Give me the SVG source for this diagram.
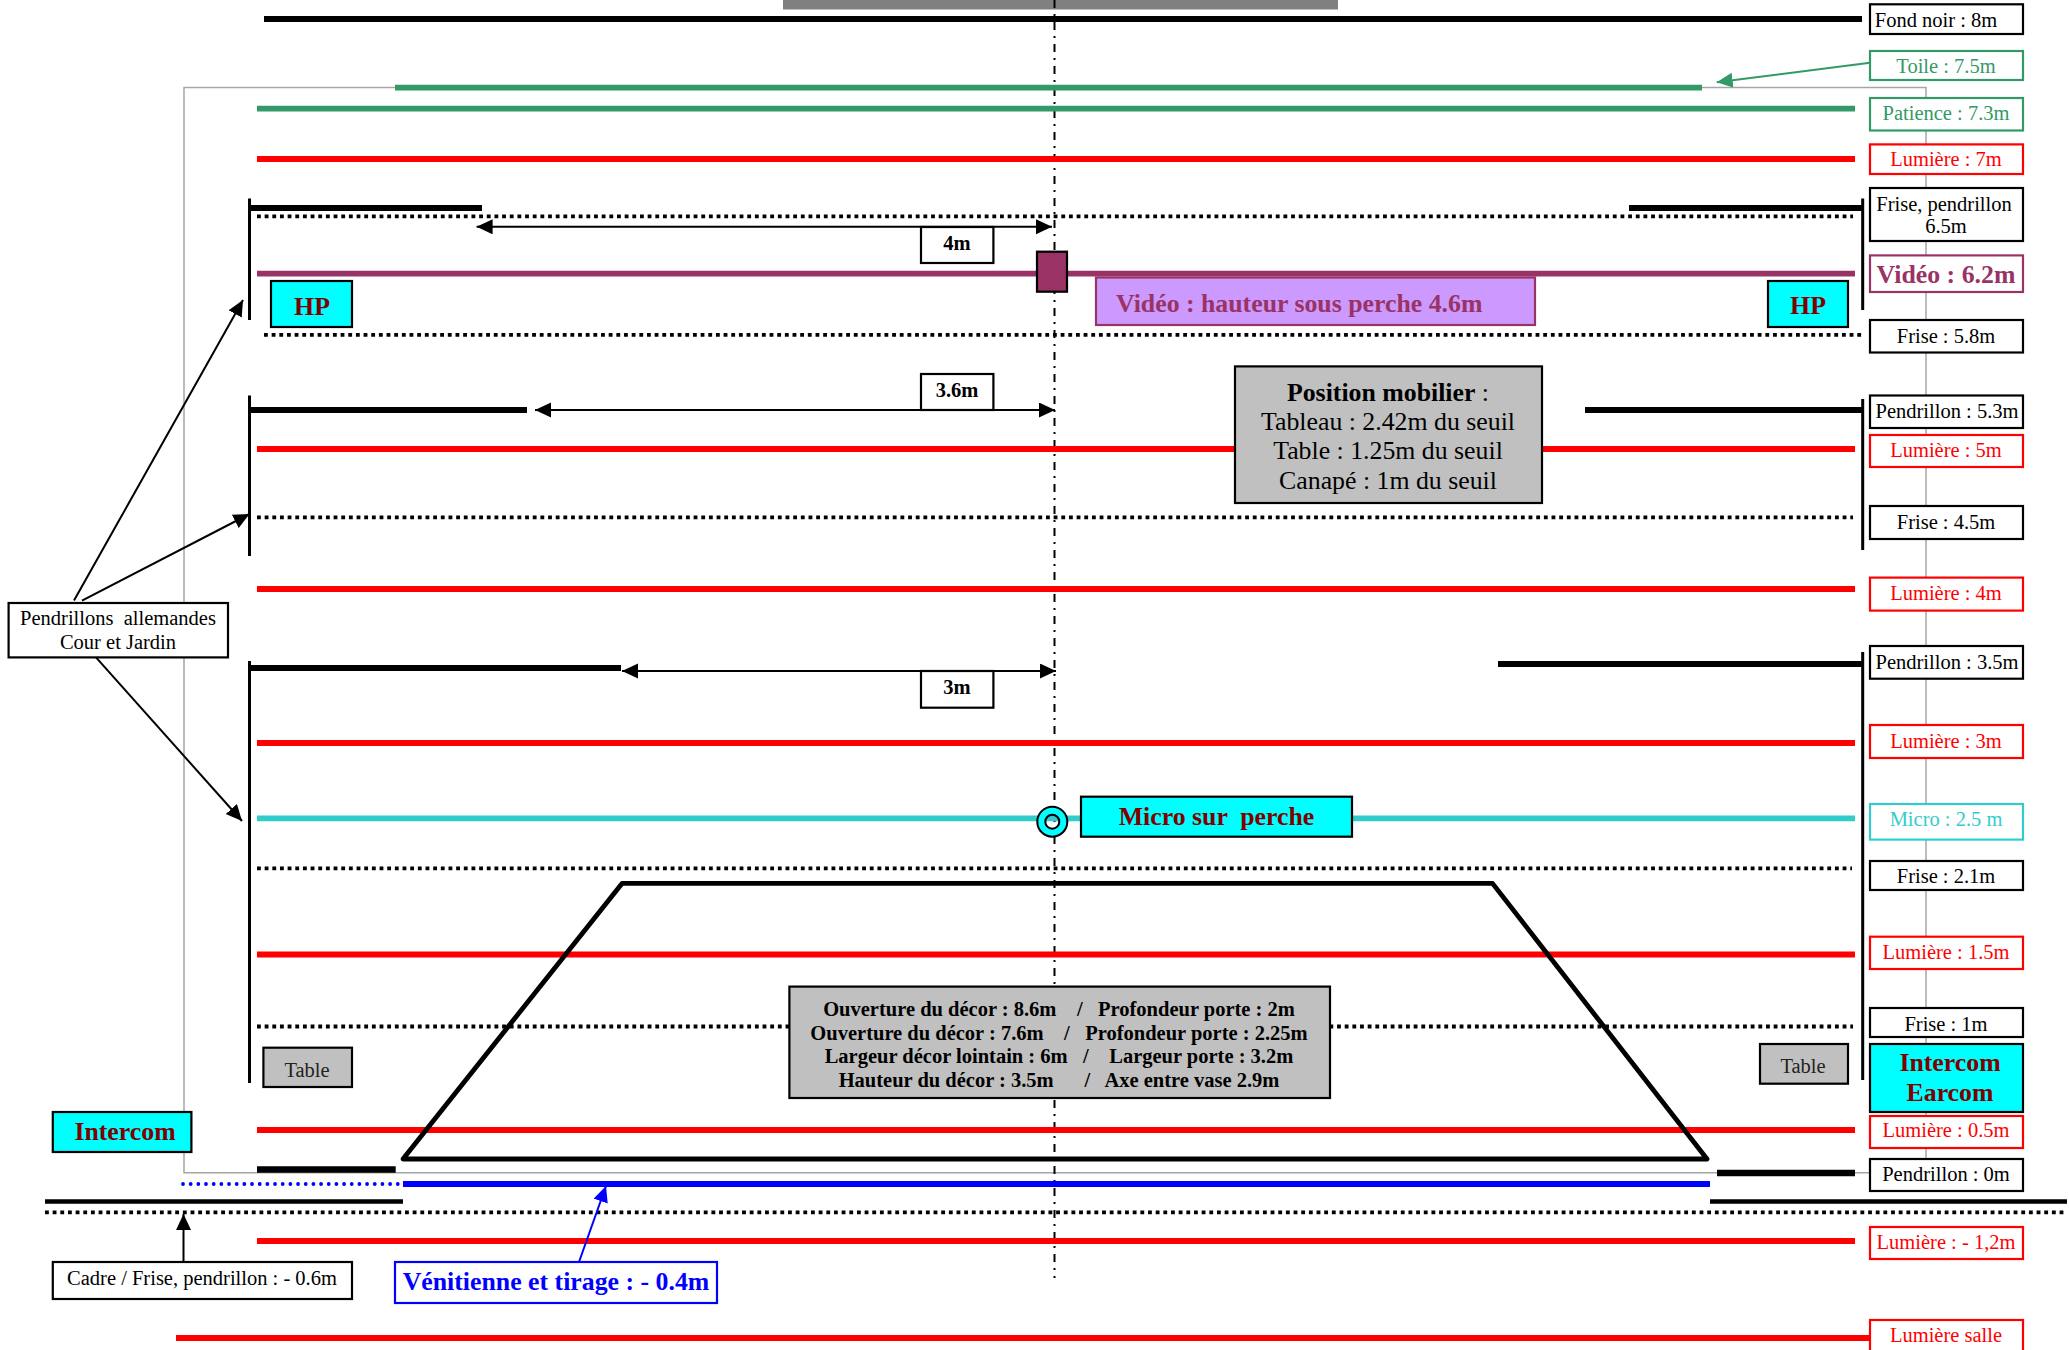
<svg xmlns="http://www.w3.org/2000/svg" width="2069" height="1350" viewBox="0 0 2069 1350">
<style>
text{font-family:"Liberation Serif","Times New Roman",serif;font-size:20.500px;text-anchor:middle;white-space:pre;fill:#000}
.b{font-weight:bold}
.big{font-weight:bold;font-size:25.800px}
.pos{font-size:25.800px}
.dr{fill:#800000}
.r{fill:#f00}.g{fill:#339966}.c{fill:#33cccc}.v{fill:#993366}.bl{fill:#00f}
rect{stroke-width:2.200;fill:#fff;stroke:#000}
rect.sr{stroke:#f00}rect.sg{stroke:#339966}rect.sc{stroke:#33cccc}rect.sv{stroke:#993366}rect.sb{stroke:#00f}
rect.cy{fill:#0ff}rect.gy{fill:#c0c0c0}
.t{fill:none;stroke-width:5.800}
.k{stroke:#000}.red{stroke:#f00}.gr{stroke:#339966}.vi{stroke:#993366}.cl{stroke:#33cccc}.blu{stroke:#00f}
.d{stroke:#000;stroke-width:3.800;stroke-dasharray:3.830 3.830;fill:none}
.w{stroke:#000;stroke-width:3;fill:none}
.a{stroke:#000;stroke-width:2;fill:none}
</style>
<defs>
<marker id="ak" markerUnits="userSpaceOnUse" markerWidth="18" markerHeight="16" refX="16" refY="7.500" orient="auto"><path d="M0 0L16 7.500L0 15Z" fill="#000"/></marker>
<marker id="ag" markerUnits="userSpaceOnUse" markerWidth="18" markerHeight="16" refX="16" refY="7.500" orient="auto"><path d="M0 0L16 7.500L0 15Z" fill="#339966"/></marker>
<marker id="ab" markerUnits="userSpaceOnUse" markerWidth="18" markerHeight="16" refX="16" refY="7.500" orient="auto"><path d="M0 0L16 7.500L0 15Z" fill="#00f"/></marker>
<marker id="as" markerUnits="userSpaceOnUse" markerWidth="18" markerHeight="16" refX="16" refY="7.500" orient="auto-start-reverse"><path d="M0 0L16 7.500L0 15Z" fill="#000"/></marker>
</defs>
<rect id="rideau" x="783" y="0" width="555" height="9.500" style="fill:#808080;stroke:none"/>
<g id="connectors">
<path d="M395 87.600H184V1172.700H1870M1702 87.600H1926V1172" fill="none" stroke="#a6a6a6" stroke-width="1.500"/>
<path d="M1054.500 0V1278" fill="none" stroke="#000" stroke-width="2" stroke-dasharray="8 6 2 6"/>
<path class="t k" d="M264 19H1862"/>
<path class="t gr" d="M395 87.600H1702M257 108.600H1855"/>
<path class="t red" d="M257 159H1855M257 449H1855M257 589H1855M257 743H1855M257 954.500H1855M257 1130H1855M257 1241H1855M176 1338H1870"/>
<path class="d" d="M257 216.400H1853M264 334.800H1863M257 517.300H1853M257 868.400H1852M257 1026.500H1853M45 1212.400H2067"/>
<path class="t k" d="M250 208H482M1629 208H1862M250 410H527M1585 410H1862M250 668H621M1498 664H1862"/>
<path class="w" d="M249.500 198.600V320M1862.700 198.600V310M249.500 395.500V556M1862.700 399V550M249.500 661V1083M1862.700 652V1080"/>
<path class="t vi" d="M257 273.600H1855"/>
<path class="t cl" d="M257 818.300H1855"/>
<path d="M622 883.400H1492.500L1707 1159H403Z" fill="none" stroke="#000" stroke-width="4.800" stroke-linejoin="round"/>
<path d="M257 1169.400H395.700M1717 1173H1855" fill="none" stroke="#000" stroke-width="6.500"/>
<path d="M183 1184H403" fill="none" stroke="#00f" stroke-width="3.800" stroke-linecap="round" stroke-dasharray="0 7.670"/>
<path class="t blu" d="M403 1184H1710"/>
<path d="M45 1201.500H403M1710 1201.500H2067" fill="none" stroke="#000" stroke-width="4.500"/>
<path class="a" d="M476.600 226.800H1052" marker-start="url(#as)" marker-end="url(#as)"/>
<path class="a" d="M535 410H1055" marker-start="url(#as)" marker-end="url(#as)"/>
<path class="a" d="M622 671H1056" marker-start="url(#as)" marker-end="url(#as)"/>
<path class="a" d="M74 600.600L243 300" marker-end="url(#ak)"/>
<path class="a" d="M82 600.600L249.500 514" marker-end="url(#ak)"/>
<path class="a" d="M96 657.400L242 821" marker-end="url(#ak)"/>
<path class="a" d="M183.500 1262V1214" marker-end="url(#ak)"/>
<path d="M579 1262L606 1186" fill="none" stroke="#00f" stroke-width="2" marker-end="url(#ab)"/>
<path d="M1870 62.700L1716.700 82.300" fill="none" stroke="#339966" stroke-width="2" marker-end="url(#ag)"/>
</g>
<g id="fond-noir"><rect x="1870" y="4.300" width="153" height="29.700"/><text x="1936" y="26.500">Fond noir : 8m</text></g>
<g id="toile"><rect class="sg" x="1870" y="51" width="153" height="29"/><text class="g" x="1946" y="73">Toile : 7.5m</text></g>
<g id="patience"><rect class="sg" x="1870" y="98" width="153" height="32.500"/><text class="g" x="1946" y="119.500">Patience : 7.3m</text></g>
<g id="lum-7"><rect class="sr" x="1870" y="144.400" width="153" height="29.600"/><text class="r" x="1946" y="165.500">Lumière : 7m</text></g>
<g id="frise-65"><rect x="1870" y="188" width="153" height="53"/><text x="1944" y="210.500">Frise, pendrillon</text><text x="1946" y="232.500">6.5m</text></g>
<g id="video-62"><rect class="sv" x="1870" y="255.400" width="153" height="36.600"/><text class="big v" x="1946" y="283">Vidéo : 6.2m</text></g>
<g id="frise-58"><rect x="1870" y="320" width="153" height="32.500"/><text x="1946" y="342.500">Frise : 5.8m</text></g>
<g id="pend-53"><rect x="1870" y="395.500" width="153" height="32.500"/><text x="1947" y="417.500">Pendrillon : 5.3m</text></g>
<g id="lum-5"><rect class="sr" x="1870" y="435" width="153" height="32"/><text class="r" x="1946" y="457">Lumière : 5m</text></g>
<g id="frise-45"><rect x="1870" y="506" width="153" height="33"/><text x="1946" y="528.500">Frise : 4.5m</text></g>
<g id="lum-4"><rect class="sr" x="1870" y="577.600" width="153" height="33"/><text class="r" x="1946" y="599.600">Lumière : 4m</text></g>
<g id="pend-35"><rect x="1870" y="646" width="153" height="32.700"/><text x="1947" y="669">Pendrillon : 3.5m</text></g>
<g id="lum-3"><rect class="sr" x="1870" y="725" width="153" height="33"/><text class="r" x="1946" y="748">Lumière : 3m</text></g>
<g id="micro-25"><rect class="sc" x="1870" y="804" width="153" height="35.600"/><text class="c" x="1946" y="825.500">Micro : 2.5 m</text></g>
<g id="frise-21"><rect x="1870" y="861" width="153" height="29"/><text x="1946" y="882.500">Frise : 2.1m</text></g>
<g id="lum-15"><rect class="sr" x="1870" y="936.700" width="153" height="32.300"/><text class="r" x="1946" y="958.700">Lumière : 1.5m</text></g>
<g id="frise-1"><rect x="1870" y="1008" width="153" height="29"/><text x="1946" y="1030.500">Frise : 1m</text></g>
<g id="intercom-earcom"><rect class="cy" x="1870" y="1044" width="153" height="68"/><text class="big dr" x="1950" y="1071">Intercom</text><text class="big dr" x="1950" y="1101">Earcom</text></g>
<g id="lum-05"><rect class="sr" x="1870" y="1116" width="153" height="32"/><text class="r" x="1946" y="1137">Lumière : 0.5m</text></g>
<g id="pend-0"><rect x="1870" y="1159" width="153" height="32"/><text x="1946" y="1180.700">Pendrillon : 0m</text></g>
<g id="lum-m12"><rect class="sr" x="1870" y="1227" width="153" height="32"/><text class="r" x="1946" y="1249">Lumière : - 1,2m</text></g>
<g id="lum-salle"><rect class="sr" x="1870" y="1320" width="153" height="40"/><text class="r" x="1946" y="1342">Lumière salle</text></g>
<g id="hp-l"><rect class="cy" x="271" y="281" width="81" height="46"/><text class="big dr" x="312" y="315">HP</text></g>
<g id="hp-r"><rect class="cy" x="1768" y="281" width="80" height="46"/><text class="big dr" x="1808" y="314">HP</text></g>
<g id="d4"><rect x="921" y="227" width="72.400" height="36"/><text class="b" x="957" y="250">4m</text></g>
<g id="d36"><rect x="921" y="374" width="72.400" height="36"/><text class="b" x="957" y="397">3.6m</text></g>
<g id="d3"><rect x="921" y="671" width="72.400" height="36.700"/><text class="b" x="957" y="694">3m</text></g>
<g id="pendrillons"><rect x="8.600" y="603" width="219.400" height="54.400"/><text x="118" y="625">Pendrillons  allemandes</text><text x="118" y="649">Cour et Jardin</text></g>
<g id="video-perche"><rect x="1037" y="251.700" width="30" height="40" style="fill:#993366"/></g>
<g id="video-box"><rect class="sv" x="1096" y="277.500" width="439" height="47.500" style="fill:#cc99ff"/><text class="big v" x="1116" y="312" style="text-anchor:start">Vidéo : hauteur sous perche 4.6m</text></g>
<g id="position"><rect class="gy" x="1235" y="366.400" width="307" height="136.600"/><text class="pos" x="1388" y="401"><tspan class="b">Position mobilier</tspan> :</text><text class="pos" x="1388" y="430">Tableau : 2.42m du seuil</text><text class="pos" x="1388" y="459">Table : 1.25m du seuil</text><text class="pos" x="1388" y="489">Canapé : 1m du seuil</text></g>
<g id="micro-perche"><path d="M1037.300 821.700a15 15 0 1 0 30 0a15 15 0 1 0 -30 0ZM1045.300 821.700a7 7 0 1 0 14 0a7 7 0 1 0 -14 0Z" fill="#0ff" fill-rule="evenodd" stroke="#000" stroke-width="2"/><rect class="cy" x="1081" y="796.700" width="271" height="40"/><text class="big dr" x="1216.500" y="825">Micro sur  perche</text></g>
<g id="decor"><rect class="gy" x="789.400" y="986.600" width="540.600" height="111.400"/><text class="b" x="1059" y="1016">Ouverture du décor : 8.6m    /   Profondeur porte : 2m</text><text class="b" x="1059" y="1040">Ouverture du décor : 7.6m    /   Profondeur porte : 2.25m</text><text class="b" x="1059" y="1063">Largeur décor lointain : 6m   /    Largeur porte : 3.2m</text><text class="b" x="1059" y="1087">Hauteur du décor : 3.5m      /   Axe entre vase 2.9m</text></g>
<g id="table-l"><rect class="gy" x="263.400" y="1047.700" width="88.600" height="39.300"/><text x="307" y="1076.600" style="fill:#222">Table</text></g>
<g id="table-r"><rect class="gy" x="1760" y="1044" width="88" height="39.700"/><text x="1803" y="1073" style="fill:#222">Table</text></g>
<g id="intercom"><rect class="cy" x="52.800" y="1112" width="138.600" height="40"/><text class="big dr" x="125" y="1140">Intercom</text></g>
<g id="cadre"><rect x="52.800" y="1262" width="299.200" height="37"/><text x="202" y="1285">Cadre / Frise, pendrillon : - 0.6m</text></g>
<g id="venitienne"><rect class="sb" x="395" y="1262" width="322" height="41"/><text class="big bl" x="556" y="1290">Vénitienne et tirage : - 0.4m</text></g>
</svg>
